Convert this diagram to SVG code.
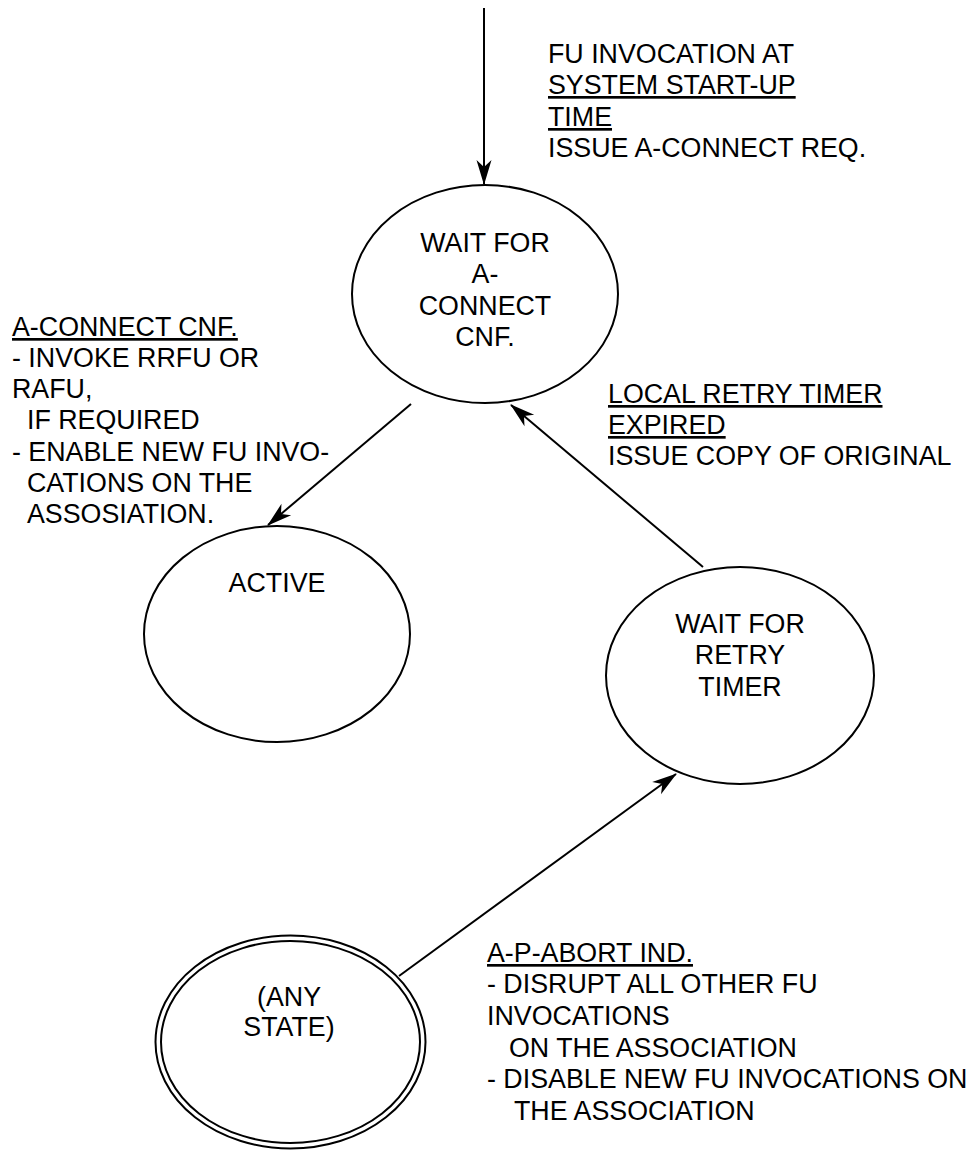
<svg xmlns="http://www.w3.org/2000/svg" width="976" height="1151" viewBox="0 0 976 1151">
  <style>
    text { font-family: "Liberation Sans", Arial, sans-serif; font-size: 26.8px; fill: #000; }
    .c { text-anchor: middle; }
    .u { text-decoration: underline; }
    .state { fill: #fff; stroke: #000; stroke-width: 2; }
    .edge { fill: none; stroke: #000; stroke-width: 2; marker-end: url(#arrow); }
  </style>
  <defs>
    <marker id="arrow" markerUnits="userSpaceOnUse" viewBox="-26 -10 28 20" markerWidth="28" markerHeight="20" refX="0" refY="0" orient="auto" overflow="visible">
      <path d="M1,0 L-24,-7.5 L-17,0 L-24,7.5 Z" fill="#000"/>
    </marker>
  </defs>

  <rect width="976" height="1151" fill="#fff"/>

  <!-- transitions -->
  <g id="connectors">
    <line class="edge" x1="484" y1="8" x2="484" y2="184"/>
    <line class="edge" x1="411" y1="404" x2="268" y2="525"/>
    <line class="edge" x1="703" y1="567" x2="511" y2="405"/>
    <line class="edge" x1="399" y1="976" x2="676" y2="774"/>
  </g>

  <!-- transition labels -->
  <g id="label-startup">
    <text x="548" y="63">FU INVOCATION AT</text>
    <text x="548" y="94" class="u">SYSTEM START-UP</text>
    <text x="548" y="126" class="u">TIME</text>
    <text x="548" y="157">ISSUE A-CONNECT REQ.</text>
  </g>
  <g id="label-connect-cnf">
    <text x="12" y="336" class="u">A-CONNECT CNF.</text>
    <text x="12" y="367">- INVOKE RRFU OR</text>
    <text x="12" y="398">RAFU,</text>
    <text x="27" y="429">IF REQUIRED</text>
    <text x="12" y="461">- ENABLE NEW FU INVO-</text>
    <text x="27" y="492">CATIONS ON THE</text>
    <text x="27" y="523">ASSOSIATION.</text>
  </g>
  <g id="label-retry-expired">
    <text x="608" y="403" class="u">LOCAL RETRY TIMER</text>
    <text x="608" y="434" class="u">EXPIRED</text>
    <text x="608" y="465">ISSUE COPY OF ORIGINAL</text>
  </g>
  <g id="label-abort">
    <text x="487" y="962" class="u">A-P-ABORT IND.</text>
    <text x="487" y="993">- DISRUPT ALL OTHER FU</text>
    <text x="487" y="1025">INVOCATIONS</text>
    <text x="509" y="1057">ON THE ASSOCIATION</text>
    <text x="487" y="1088">- DISABLE NEW FU INVOCATIONS ON</text>
    <text x="514" y="1120">THE ASSOCIATION</text>
  </g>

  <!-- states -->
  <g id="state-wait-connect">
    <ellipse class="state" cx="485" cy="294" rx="133" ry="109"/>
    <text class="c" x="485" y="252">WAIT FOR</text>
    <text class="c" x="485" y="283">A-</text>
    <text class="c" x="485" y="315">CONNECT</text>
    <text class="c" x="485" y="346">CNF.</text>
  </g>
  <g id="state-active">
    <ellipse class="state" cx="277" cy="634" rx="133" ry="108"/>
    <text class="c" x="277" y="592">ACTIVE</text>
  </g>
  <g id="state-wait-retry">
    <ellipse class="state" cx="740" cy="675.5" rx="134" ry="108.5"/>
    <text class="c" x="740" y="633">WAIT FOR</text>
    <text class="c" x="740" y="664">RETRY</text>
    <text class="c" x="740" y="696">TIMER</text>
  </g>
  <g id="state-any">
    <ellipse class="state" cx="290.5" cy="1042" rx="135" ry="106.5"/>
    <ellipse class="state" cx="290.5" cy="1042" rx="129.5" ry="101"/>
    <text class="c" x="289" y="1006">(ANY</text>
    <text class="c" x="289" y="1036">STATE)</text>
  </g>
</svg>
